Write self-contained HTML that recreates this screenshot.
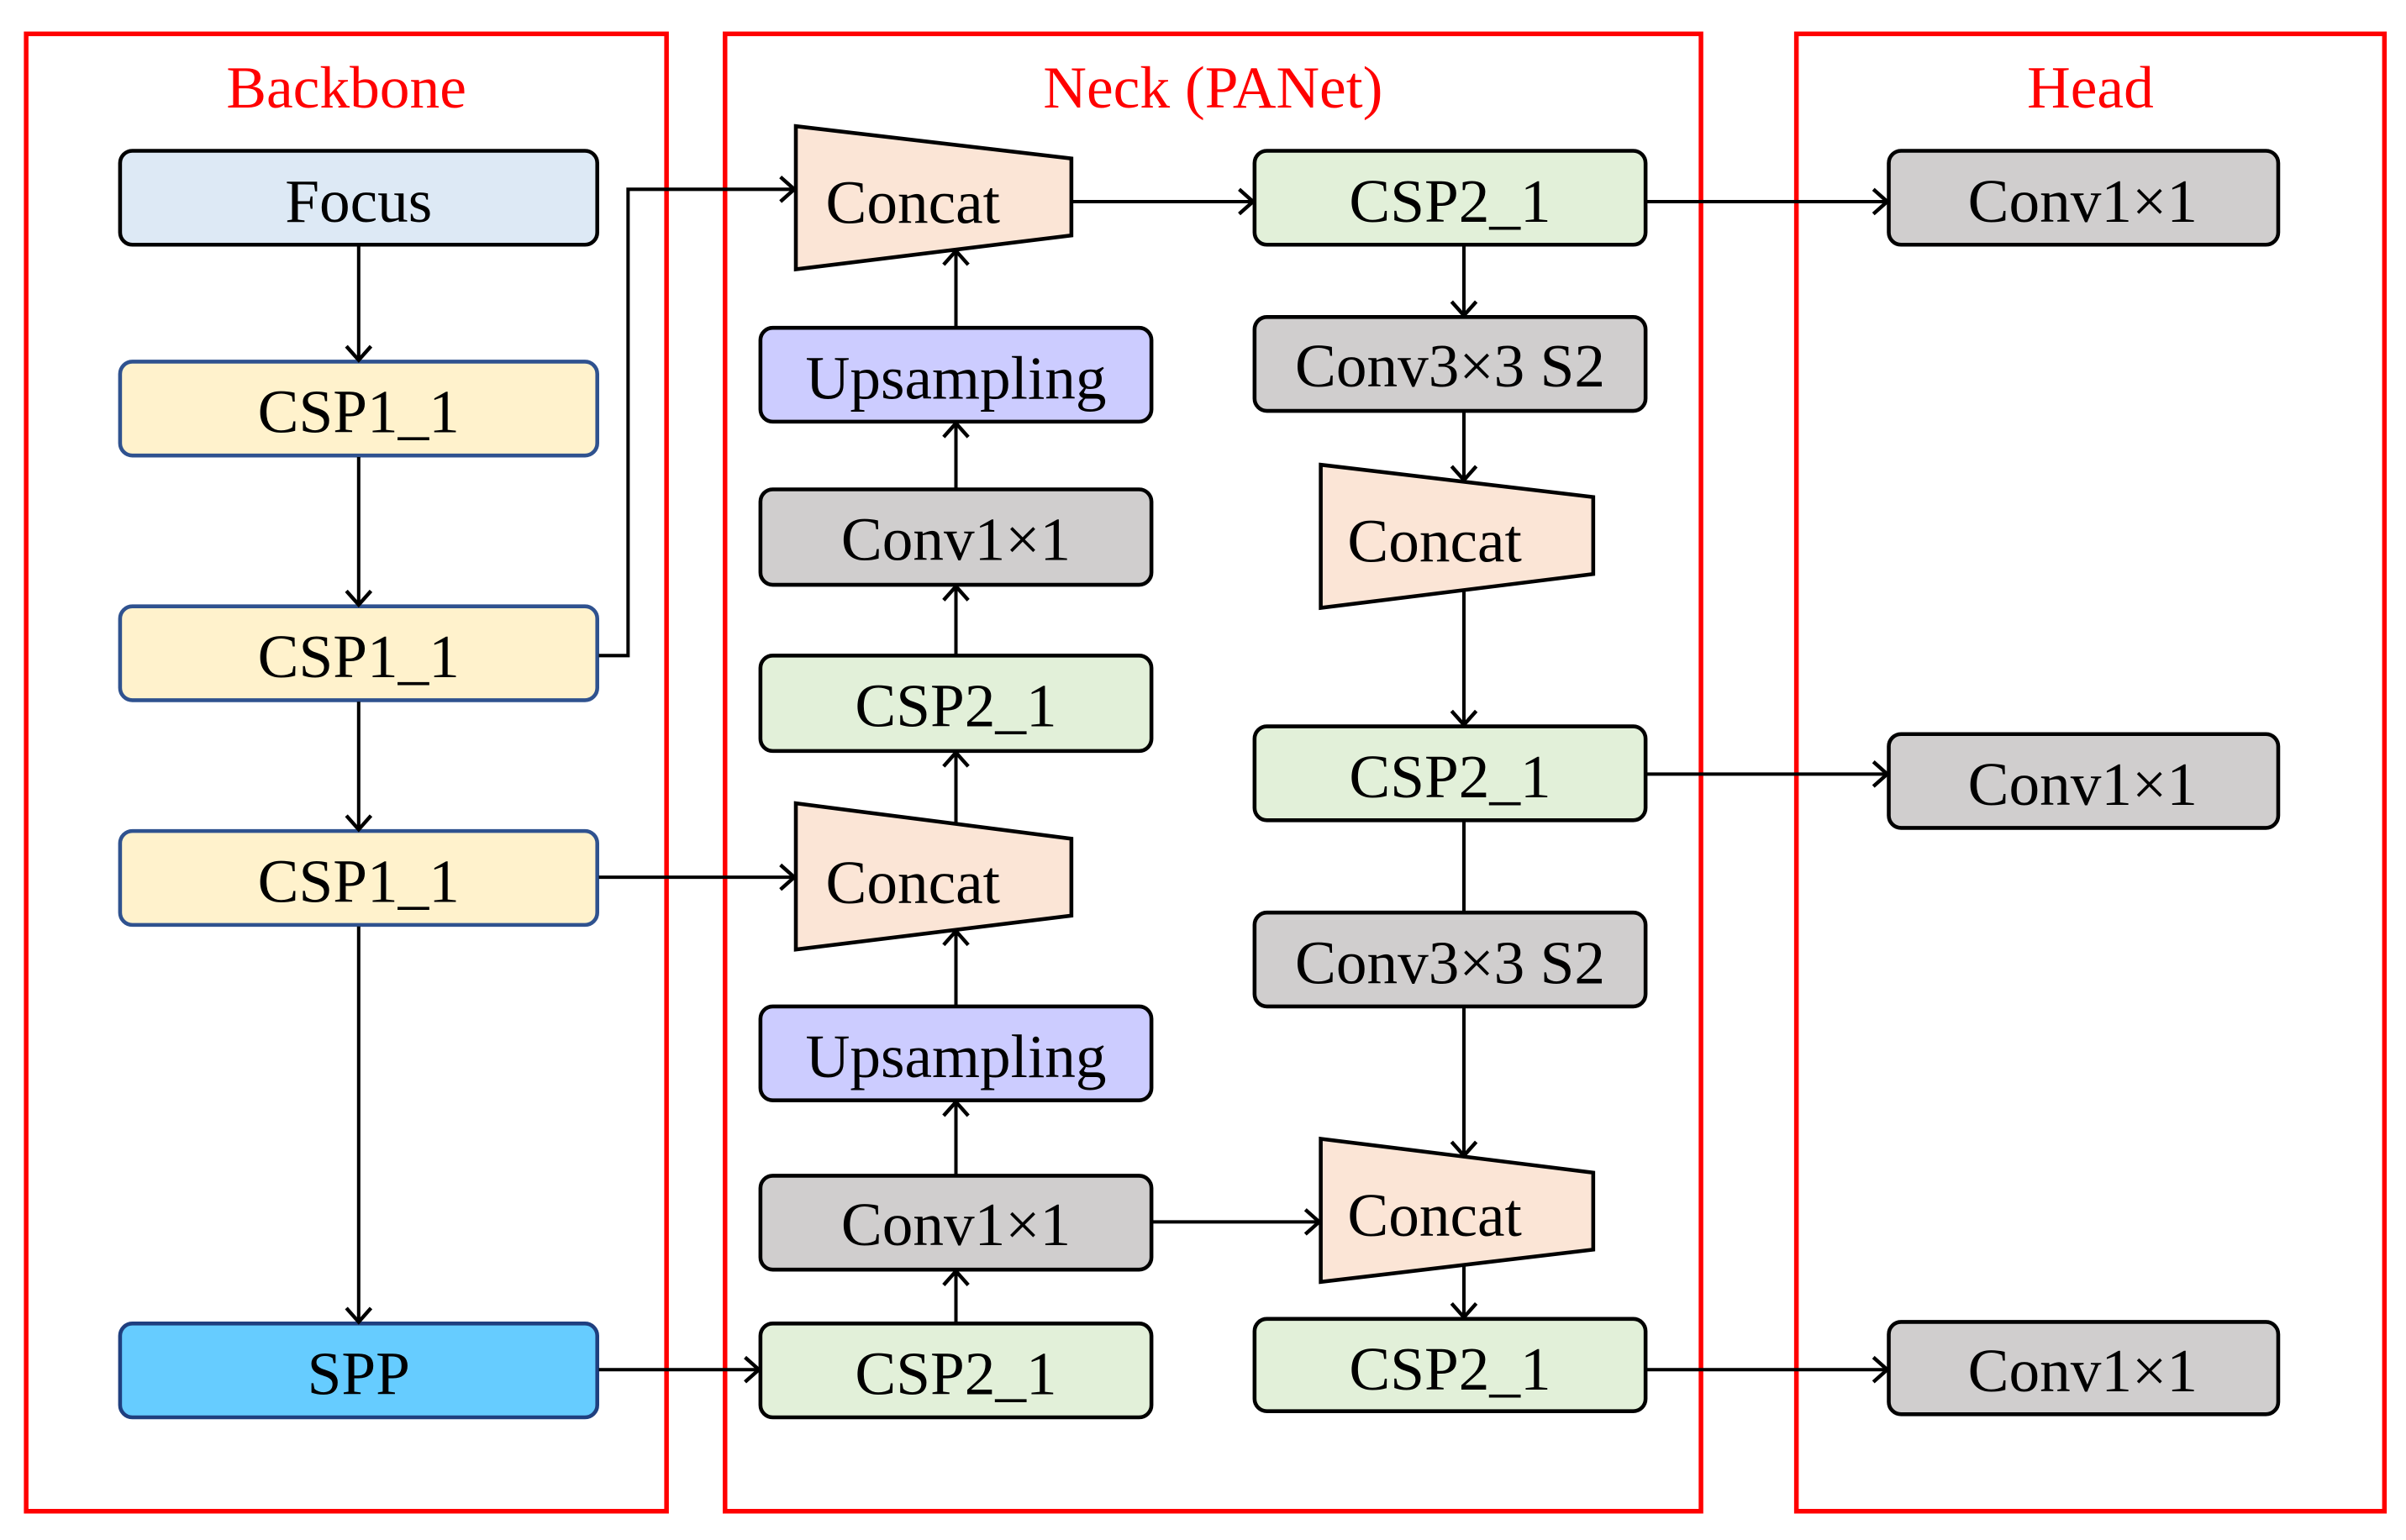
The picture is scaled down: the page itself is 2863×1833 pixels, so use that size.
<!DOCTYPE html>
<html><head><meta charset="utf-8"><style>html,body{margin:0;padding:0;background:#fff}svg{display:block}</style></head>
<body>
<svg xmlns="http://www.w3.org/2000/svg" width="2863" height="1833" viewBox="0 0 1563 1000.7" font-family="'Liberation Serif', serif">
<defs>
<marker id="a" markerWidth="20" markerHeight="20" refX="14" refY="10" orient="auto" markerUnits="userSpaceOnUse">
<polyline points="5,2 14,10 5,18" fill="none" stroke="#000" stroke-width="2.4"/>
</marker>
</defs>
<rect width="1563" height="1001" fill="#fff"/>
<g fill="none" stroke="#f00" stroke-width="3">
<rect x="17" y="22" width="416" height="960"/>
<rect x="471" y="22" width="634" height="960"/>
<rect x="1167" y="22" width="382" height="960"/>
</g>
<g fill="#f00" font-size="39" text-anchor="middle">
<text x="225" y="70">Backbone</text>
<text x="788" y="70">Neck (PANet)</text>
<text x="1358" y="70">Head</text>
</g>
<g stroke-width="2.5">
<rect x="78" y="98" width="310" height="61" rx="8" fill="#dde9f5" stroke="#000"/>
<rect x="78" y="235" width="310" height="61" rx="8" fill="#fff2cc" stroke="#2f528f"/>
<rect x="78" y="394" width="310" height="61" rx="8" fill="#fff2cc" stroke="#2f528f"/>
<rect x="78" y="540" width="310" height="61" rx="8" fill="#fff2cc" stroke="#2f528f"/>
<rect x="78" y="860" width="310" height="61" rx="8" fill="#66ccff" stroke="#1f3f7f"/>
<g stroke="#000">
<rect x="494" y="213" width="254" height="61" rx="8" fill="#ccccff"/>
<rect x="494" y="318" width="254" height="62" rx="8" fill="#d0cece"/>
<rect x="494" y="426" width="254" height="62" rx="8" fill="#e2f0d9"/>
<rect x="494" y="654" width="254" height="61" rx="8" fill="#ccccff"/>
<rect x="494" y="764" width="254" height="61" rx="8" fill="#d0cece"/>
<rect x="494" y="860" width="254" height="61" rx="8" fill="#e2f0d9"/>
<rect x="815" y="98" width="254" height="61" rx="8" fill="#e2f0d9"/>
<rect x="815" y="206" width="254" height="61" rx="8" fill="#d0cece"/>
<rect x="815" y="472" width="254" height="61" rx="8" fill="#e2f0d9"/>
<rect x="815" y="593" width="254" height="61" rx="8" fill="#d0cece"/>
<rect x="815" y="857" width="254" height="60" rx="8" fill="#e2f0d9"/>
<rect x="1227" y="98" width="253" height="61" rx="8" fill="#d0cece"/>
<rect x="1227" y="477" width="253" height="61" rx="8" fill="#d0cece"/>
<rect x="1227" y="859" width="253" height="60" rx="8" fill="#d0cece"/>
<polygon points="517,82 696,103 696,153 517,175" fill="#fbe5d6"/>
<polygon points="517,522 696,545 696,595 517,617" fill="#fbe5d6"/>
<polygon points="858,302 1035,323 1035,373 858,395" fill="#fbe5d6"/>
<polygon points="858,740 1035,762 1035,812 858,833" fill="#fbe5d6"/>
</g>
</g>
<g font-size="40" text-anchor="middle" fill="#000">
<text x="233" y="144">Focus</text>
<text x="233" y="281">CSP1_1</text>
<text x="233" y="440">CSP1_1</text>
<text x="233" y="586">CSP1_1</text>
<text x="233" y="906">SPP</text>
<text x="621" y="259">Upsampling</text>
<text x="621" y="364">Conv1×1</text>
<text x="621" y="472">CSP2_1</text>
<text x="621" y="700">Upsampling</text>
<text x="621" y="809">Conv1×1</text>
<text x="621" y="906">CSP2_1</text>
<text x="942" y="144">CSP2_1</text>
<text x="942" y="251">Conv3×3 S2</text>
<text x="942" y="518">CSP2_1</text>
<text x="942" y="639">Conv3×3 S2</text>
<text x="942" y="903">CSP2_1</text>
<text x="1353" y="144">Conv1×1</text>
<text x="1353" y="523">Conv1×1</text>
<text x="1353" y="904">Conv1×1</text>
<text x="593" y="145">Concat</text>
<text x="593" y="587">Concat</text>
<text x="932" y="365">Concat</text>
<text x="932" y="803">Concat</text>
</g>
<g stroke="#000" stroke-width="2.2" fill="none" marker-end="url(#a)">
<line x1="233" y1="160" x2="233" y2="234"/>
<line x1="233" y1="297" x2="233" y2="393"/>
<line x1="233" y1="456" x2="233" y2="539"/>
<line x1="233" y1="602" x2="233" y2="859"/>
<polyline points="389,426 408,426 408,123 516,123"/>
<line x1="389" y1="570" x2="516" y2="570"/>
<line x1="389" y1="890" x2="493" y2="890"/>
<line x1="621" y1="859" x2="621" y2="826"/>
<line x1="621" y1="763" x2="621" y2="716"/>
<line x1="621" y1="653" x2="621" y2="605"/>
<line x1="621" y1="535" x2="621" y2="489"/>
<line x1="621" y1="425" x2="621" y2="381"/>
<line x1="621" y1="317" x2="621" y2="275"/>
<line x1="621" y1="212" x2="621" y2="163"/>
<line x1="697" y1="131" x2="814" y2="131"/>
<line x1="951" y1="160" x2="951" y2="205"/>
<line x1="951" y1="268" x2="951" y2="312"/>
<line x1="951" y1="384" x2="951" y2="471"/>
<line x1="951" y1="655" x2="951" y2="751"/>
<line x1="951" y1="822" x2="951" y2="856"/>
<line x1="749" y1="794" x2="857" y2="794"/>
<line x1="1070" y1="131" x2="1226" y2="131"/>
<line x1="1070" y1="503" x2="1226" y2="503"/>
<line x1="1070" y1="890" x2="1226" y2="890"/>
</g>
<line x1="951" y1="534" x2="951" y2="593" stroke="#000" stroke-width="2.2"/>
</svg>
</body></html>
